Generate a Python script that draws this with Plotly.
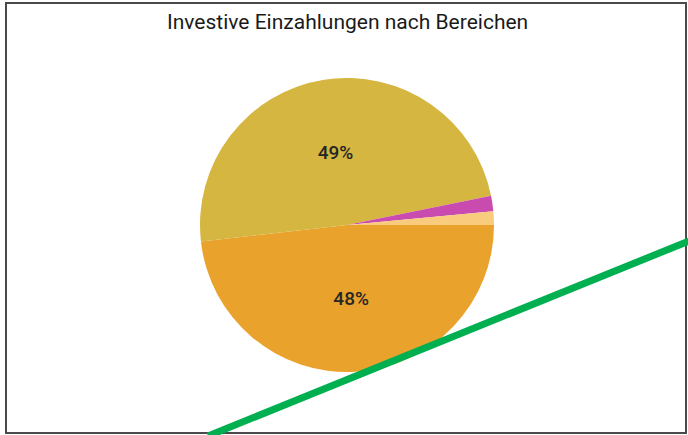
import plotly.graph_objects as go

# Data
labels = ["Bereich A", "Bereich B", "Bereich C", "Bereich D"]
values = [48.2, 48.6, 1.7, 1.5]
colors = ["#E9A22B", "#D5B640", "#C94BB0", "#F9CB7C"]
title_text = "Investive Einzahlungen nach Bereichen"

W, H = 688, 435

def px(x):
    return x / W

def py(y):
    return 1 - y / H

texttemplates = ["%{percent:.0%}" if v >= 5 else "" for v in values]

fig = go.Figure(go.Pie(
    labels=labels,
    values=values,
    marker=dict(colors=colors, line=dict(width=0)),
    sort=False,
    direction="clockwise",
    rotation=90,
    texttemplate=texttemplates,
    textposition="inside",
    insidetextorientation="horizontal",
    textfont=dict(family="Roboto", size=19, color="#262626", weight=500),
    hoverinfo="label+percent",
    showlegend=False,
    domain=dict(x=[px(200), px(494)], y=[py(372), py(78)]),
))

fig.update_layout(
    width=W, height=H,
    margin=dict(l=0, r=0, t=0, b=0),
    paper_bgcolor="white",
    plot_bgcolor="white",
    annotations=[dict(
        text=title_text, x=px(347), y=py(22), xref="paper", yref="paper",
        showarrow=False, xanchor="center", yanchor="middle",
        font=dict(family="Roboto", size=21, color="#1a1a1a", weight=400),
    )],
    shapes=[
        dict(type="rect", xref="paper", yref="paper",
             x0=px(6), x1=px(686), y0=py(433), y1=py(3),
             line=dict(color="#4a4a4a", width=2), fillcolor="rgba(0,0,0,0)"),
        dict(type="line", xref="paper", yref="paper",
             x0=px(208), y0=py(436), x1=px(689), y1=py(241),
             line=dict(color="#00B050", width=7)),
    ],
)

fig.write_html("out.html", config={"displayModeBar": False},
               post_script="document.body.style.margin='0';")
